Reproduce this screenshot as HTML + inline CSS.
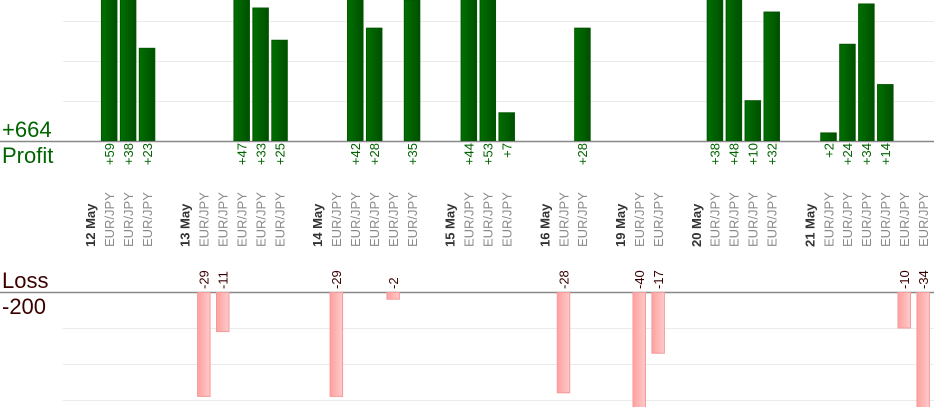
<!DOCTYPE html>
<html><head><meta charset="utf-8">
<style>
html,body{margin:0;padding:0;background:#fff;}
svg{display:block;font-family:"Liberation Sans",Arial,sans-serif;}
</style></head>
<body>
<svg id="chart" width="934" height="420" viewBox="0 0 934 420" xmlns="http://www.w3.org/2000/svg">
<defs>
<linearGradient id="gGreen" x1="0" x2="1" y1="0" y2="0"><stop offset="0" stop-color="#007000"/><stop offset="1" stop-color="#004f00"/></linearGradient>
<linearGradient id="gPink" x1="0" x2="1" y1="0" y2="0"><stop offset="0" stop-color="#ffa0a0"/><stop offset="1" stop-color="#ffcaca"/></linearGradient>
<clipPath id="clipP"><rect x="0" y="0" width="934" height="141"/></clipPath>
<clipPath id="clipL"><rect x="0" y="292" width="934" height="115"/></clipPath>
</defs>
<g id="grid"></g>
<line x1="0" y1="141.5" x2="934" y2="141.5" stroke="#888" stroke-width="1.5"/>
<line x1="0" y1="292.5" x2="934" y2="292.5" stroke="#888" stroke-width="1.5"/>
<text x="2" y="137" font-size="22" fill="#006400">+664</text>
<text x="2" y="163" font-size="22" fill="#006400">Profit</text>
<text x="2" y="288" font-size="22" fill="#3a0000">Loss</text>
<text x="2" y="314" font-size="22" fill="#3a0000">-200</text>
<g id="marks"></g>
</svg>
<script>
// Data
const days = ["12 May","13 May","14 May","15 May","16 May","19 May","20 May","21 May"];
const dayTrades = [
  [59,38,23],
  [-29,-11,47,33,25],
  [-29,42,28,-2,35],
  [44,53,7],
  [-28,28],
  [-40,-17],
  [38,48,10,32],
  [2,24,34,14,-10,-34]
];
const pairName = "EUR/JPY";
const profitTotal = "+664";
const lossTotal = "-200";

// Axis functions
const slotStep = 18.93, slotX0 = 90;
const xSlot = i => slotX0 + slotStep * i;
const pBase = 141, pScale = 4.03;
const yP = v => pBase - v * pScale;
const lBase = 292, lScale = 3.6;
const yL = v => lBase + Math.abs(v) * lScale;

const NS = "http://www.w3.org/2000/svg";
const marks = document.getElementById("marks");
const grid = document.getElementById("grid");
function mk(tag, attrs, parent) {
  const e = document.createElementNS(NS, tag);
  for (const k in attrs) e.setAttribute(k, attrs[k]);
  parent.appendChild(e);
  return e;
}
[21,61,101].forEach(y => {
  const l = mk("line", {x1:63, x2:934, y1:y+0.5, y2:y+0.5, stroke:"#ebebeb", "stroke-width":1}, grid);
  
  
});
[328,364,400].forEach(y => {
  const l = mk("line", {x1:63, x2:934, y1:y+0.5, y2:y+0.5, stroke:"#ebebeb", "stroke-width":1}, grid);
  
  
});

const gP = mk("g", {"clip-path":"url(#clipP)"}, marks);
const gL = mk("g", {"clip-path":"url(#clipL)"}, marks);

let slot = 0;
days.forEach((d, di) => {
  const dx = xSlot(slot);
  const dt = mk("text", {x: dx + 5, y: 247, transform: `rotate(-90 ${dx+5} 247)`, "font-size":13, "font-weight":"bold", fill:"#333"}, marks);
  dt.textContent = d;
  
  
  slot++;
  dayTrades[di].forEach(v => {
    const cx = xSlot(slot);
    const pl = mk("text", {x: cx + 5, y: 247, transform: `rotate(-90 ${cx+5} 247)`, "font-size":13, fill:"#8a8a8a"}, marks);
    pl.textContent = pairName;
    
    
    if (v > 0) {
      const top = yP(v);
      const r = mk("rect", {x: cx - 7.5, y: top, width: 15.5, height: pBase - top, fill: "url(#gGreen)", stroke: "#005500", "stroke-width": 1}, gP);
      
      
      const t = mk("text", {x: cx + 5, y: 143, transform: `rotate(-90 ${cx+5} 143)`, "text-anchor":"end", "font-size":13, fill:"#006400"}, marks);
      t.textContent = "+" + v;
      
      
    } else {
      const bot = yL(v);
      const r = mk("rect", {x: cx - 6, y: lBase + 0.5, width: 12.5, height: bot - lBase - 0.5, fill: "url(#gPink)", stroke: "#f59a9a", "stroke-width": 1}, gL);
      
      
      const t = mk("text", {x: cx + 5, y: 289, transform: `rotate(-90 ${cx+5} 289)`, "font-size":13, fill:"#3a0000"}, marks);
      t.textContent = String(v);
      
      
    }
    slot++;
  });
  slot++;
});
</script>
</body></html>
